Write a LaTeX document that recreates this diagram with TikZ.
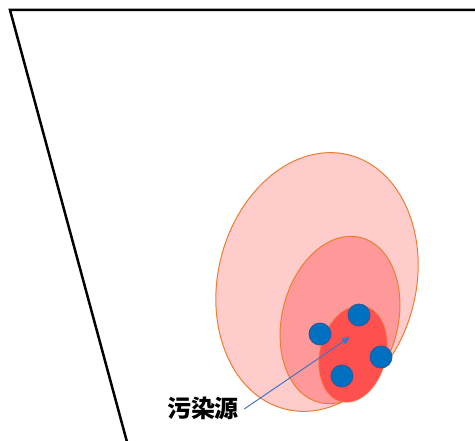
\documentclass[tikz,border=0pt]{standalone}
\usepackage{fontspec}
\newfontfamily\cjk{Noto Sans CJK SC}
\usetikzlibrary{arrows.meta}
\definecolor{rim}{HTML}{ED7D31}
\definecolor{zone1}{HTML}{FFCCCC}
\definecolor{zone2}{HTML}{FF9999}
\definecolor{zone3}{HTML}{FF5050}
\definecolor{dotblue}{HTML}{0070C0}
\definecolor{dotrim}{HTML}{2F5597}
\definecolor{arrowblue}{HTML}{4472C4}
\tikzset{
  zone/.style={draw=rim, line width=1pt},
  dot/.style={circle, fill=dotblue, draw=dotrim, line width=0.8pt, minimum size=22pt, inner sep=0pt},
  frame/.style={line width=2.5pt, black},
}
\begin{document}
\begin{tikzpicture}[x=1pt,y=-1pt]
\useasboundingbox (0,0) rectangle (475,441);
\coordinate (tl) at (10,10);
\coordinate (tr) at (476,10);
\coordinate (bl) at (127,442);
\draw[frame] (tr) -- (tl) -- (bl);
\fill[zone1] (317,282) ellipse[x radius=99, y radius=131, rotate=-14];
\draw[zone] (317,282) ellipse[x radius=99, y radius=131, rotate=-14];
\fill[zone2] (340,320) ellipse[x radius=58, y radius=85, rotate=-14];
\draw[zone] (340,320) ellipse[x radius=58, y radius=85, rotate=-14];
\fill[zone3] (353,354) ellipse[x radius=33, y radius=49, rotate=-14];
\draw[zone, draw opacity=0.6] (353,354) ellipse[x radius=33, y radius=49, rotate=-14];
\node[dot] (d1) at (320,334) {};
\node[dot] (d2) at (359,315) {};
\node[dot] (d3) at (381,357) {};
\node[dot] (d4) at (342,376) {};
\node[font=\cjk\bfseries\fontsize{24}{28}\selectfont, anchor=center, inner sep=2pt] (lbl) at (203,408) {污染源};
\coordinate (tip) at (350,337);
\draw[arrowblue, line width=1pt, -{Triangle[length=8pt,width=7pt]}] (lbl.east) ++(3,1) -- (tip);
\end{tikzpicture}
\end{document}
